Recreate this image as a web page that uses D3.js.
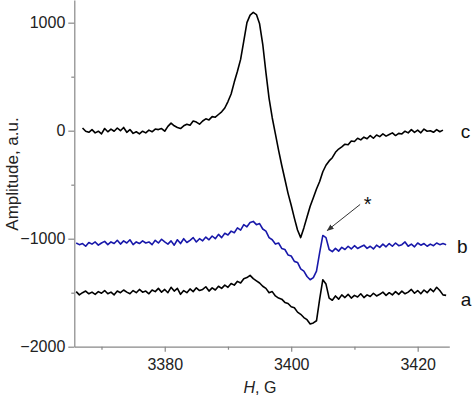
<!DOCTYPE html>
<html>
<head>
<meta charset="utf-8">
<script src="https://cdn.jsdelivr.net/npm/d3@7"></script>
<style>
  body { margin: 0; background: #fff; }
  svg { display: block; font-family: "Liberation Sans", Arial, sans-serif; }
</style>
</head>
<body>
<svg id="chart" width="474" height="399"></svg>
<script>
// field grid, 0.5 G steps from 3366.0 to 3424.5
var field = d3.range(3366, 3424.51, 0.5);

// spectrum c (top)
var specC = [
  null, null, 25, -5, -15, 10, -20, -5, -30, 20,
  -10, 15, -5, 25, 0, 30, -15, 10, -25, -10,
  -30, -5, -20, 5, -10, 15, 10, 20, -5, 40,
  70, 45, 30, 20, 45, 60, 50, 90, 80, 60,
  90, 110, 100, 130, 125, 150, 175, 210, 270, 340,
  450, 550, 660, 830, 1000, 1070, 1095, 1075, 990, 800,
  540, 300, 120, -30, -180, -320, -450, -580, -690, -810,
  -920, -990, -900, -800, -700, -620, -540, -470, -380, -320,
  -280, -250, -200, -170, -150, -125, -130, -95, -100, -70,
  -85, -60, -75, -45, -70, -40, -55, -30, -50, -35,
  -20, -45, -25, -30, -5, -20, 10, -15, 5, -20,
  15, -5, 0, -15, 10, -10, 5, null
];

// spectrum b (blue)
var specB = [
  -1040, -1055, -1045, -1070, -1035, -1050, -1030, -1060, -1040, -1025,
  -1055, -1030, -1045, -1015, -1050, -1020, -1040, -1010, -1055, -1030,
  -1045, -1020, -1040, -1030, -1055, -1015, -1040, -1005, -1030, -1050,
  -1020, -1060, -1010, -1045, -1000, -1035, -1015, -990, -1030, -1000,
  -1020, -985, -1010, -975, -1000, -960, -990, -950, -965, -930,
  -945, -900, -920, -870, -890, -850, -840, -870, -860, -910,
  -930, -990, -1010, -1050, -1040, -1090, -1100, -1150, -1160, -1210,
  -1220, -1280, -1300, -1350, -1380, -1360, -1300, -1130, -970, -990,
  -1100, -1120, -1090, -1115, -1080, -1100, -1070, -1095, -1065, -1090,
  -1075, -1060, -1090, -1070, -1095, -1060, -1080, -1050, -1075, -1045,
  -1070, -1040, -1065, -1055, -1030, -1070, -1050, -1075, -1040, -1060,
  -1045, -1070, -1050, -1065, -1040, -1055, -1045, -1055
];

// spectrum a (bottom)
var specA = [
  -1490, -1520, -1500, -1485, -1510, -1495, -1515, -1490, -1505, -1480,
  -1510, -1495, -1520, -1485, -1500, -1475, -1495, -1510, -1480, -1500,
  -1470, -1495, -1485, -1510, -1475, -1490, -1460, -1495, -1470, -1500,
  -1450, -1485, -1460, -1515, -1480, -1500, -1465, -1490, -1455, -1480,
  -1470, -1445, -1485, -1455, -1475, -1440, -1460, -1430, -1450, -1415,
  -1430, -1395, -1410, -1370, -1360, -1340, -1370, -1390, -1410, -1440,
  -1460, -1500, -1490, -1530, -1550, -1560, -1590, -1600, -1630, -1640,
  -1680, -1700, -1730, -1750, -1790, -1780, -1760, -1560, -1380, -1420,
  -1550, -1570, -1530, -1560, -1520, -1545, -1515, -1550, -1525, -1540,
  -1510, -1545, -1520, -1535, -1505, -1530, -1515, -1495, -1525, -1500,
  -1520, -1490, -1515, -1485, -1510, -1495, -1470, -1505, -1480, -1510,
  -1475, -1500, -1465, -1490, -1450, -1480, -1520, -1525
];

var yMajor = [-2000, -1000, 0, 1000];
var yMinor = [-1500, -500, 500];
var xMajor = [3380, 3400, 3420];
var xMinor = [3370, 3390, 3410];

var seriesNames = ["c", "b", "a"];
var labelPos = [[3426.8, -72], [3426.2, -1128], [3426.8, -1619]];
var starPos = [3412.1, -748];
var arrowFrom = [3410.9, -683];
var arrowTo = [3405.7, -924];

var svg = d3.select("#chart");

var x = d3.scaleLinear().domain([3365.7, 3425]).range([74.3, 449.3]);
var y = d3.scaleLinear().domain([-2000, 1210]).range([346.7, 0]);

var axisColor = "#888";
var fmt = d3.format("d");

// --- axes ---
var gy = svg.append("g").attr("transform", "translate(" + x.range()[0] + ",0)");
gy.call(d3.axisLeft(y).tickValues(yMajor).tickSize(6).tickSizeOuter(0).tickPadding(3).tickFormat(fmt));
gy.append("g").call(d3.axisLeft(y).tickValues(yMinor).tickSize(3).tickSizeOuter(0).tickFormat(""))
  .select(".domain").remove();

var gx = svg.append("g").attr("transform", "translate(0," + y.range()[0] + ")");
gx.call(d3.axisBottom(x).tickValues(xMajor).tickSize(5).tickSizeOuter(0).tickPadding(7).tickFormat(fmt));
gx.append("g").call(d3.axisBottom(x).tickValues(xMinor).tickSize(3).tickSizeOuter(0).tickFormat(""))
  .select(".domain").remove();

svg.selectAll(".domain, .tick line").attr("stroke", axisColor).attr("stroke-width", 1.2);
svg.selectAll(".tick text").attr("font-size", 16).attr("fill", "#222")
  .attr("font-family", "Liberation Sans, Arial, sans-serif");

// --- lines ---
var line = d3.line()
  .defined(function(d) { return d[1] != null; })
  .x(function(d) { return x(d[0]); })
  .y(function(d) { return y(d[1]); });

var series = [
  { values: specC, color: "#000" },
  { values: specB, color: "#1818aa" },
  { values: specA, color: "#000" }
];

series.forEach(function(s) {
  var pts = field.map(function(f, i) { return [f, s.values[i]]; });
  svg.append("path").datum(pts)
    .attr("d", line)
    .attr("fill", "none")
    .attr("stroke", s.color)
    .attr("stroke-width", 1.6)
    .attr("stroke-linejoin", "round");
});

// --- labels ---
seriesNames.forEach(function(n, i) {
  svg.append("text")
    .attr("x", x(labelPos[i][0])).attr("y", y(labelPos[i][1]))
    .attr("font-size", 19).attr("fill", "#111")
    .text(n);
});

// asterisk + arrow
svg.append("defs").append("marker")
  .attr("id", "head").attr("viewBox", "0 0 10 10")
  .attr("refX", 9).attr("refY", 5)
  .attr("markerWidth", 7).attr("markerHeight", 7)
  .attr("orient", "auto")
  .append("path").attr("d", "M0,1 L10,5 L0,9 Z").attr("fill", "#333");

svg.append("line")
  .attr("x1", x(arrowFrom[0])).attr("y1", y(arrowFrom[1]))
  .attr("x2", x(arrowTo[0])).attr("y2", y(arrowTo[1]))
  .attr("stroke", "#333").attr("stroke-width", 1)
  .attr("marker-end", "url(#head)");

svg.append("text")
  .attr("x", x(starPos[0])).attr("y", y(starPos[1]))
  .attr("text-anchor", "middle")
  .attr("font-size", 20).attr("fill", "#111")
  .text("*");

// axis titles
svg.append("text")
  .attr("transform", "translate(17.5,174) rotate(-90)")
  .attr("text-anchor", "middle")
  .attr("font-size", 17).attr("fill", "#222")
  .text("Amplitude, a.u.");

var xt = svg.append("text")
  .attr("x", 260).attr("y", 393)
  .attr("text-anchor", "middle")
  .attr("font-size", 16).attr("fill", "#222");
xt.append("tspan").attr("font-style", "italic").text("H");
xt.append("tspan").text(", G");
</script>
</body>
</html>
